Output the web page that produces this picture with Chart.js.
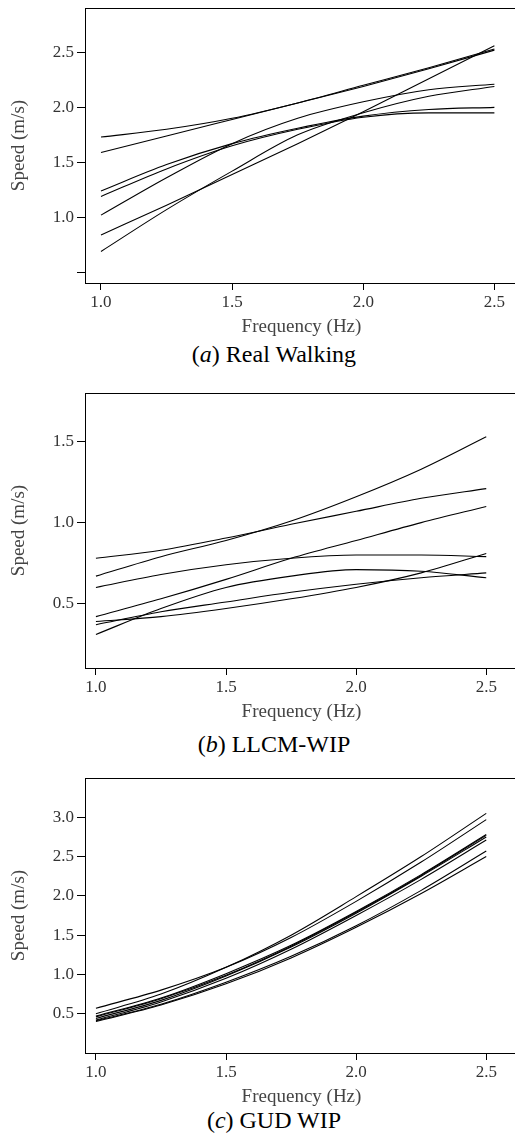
<!DOCTYPE html>
<html>
<head>
<meta charset="utf-8">
<script src="https://cdn.jsdelivr.net/npm/chart.js@4.4.0/dist/chart.umd.min.js"></script>
<style>
  html, body { margin: 0; padding: 0; overflow: hidden; background: #fff; width: 515px; height: 1135px; }
  canvas { position: absolute; left: 0; }
  .caption {
    position: absolute; left: 0; width: 548px; text-align: center;
    font-family: "Liberation Serif", "DejaVu Serif", serif; font-size: 24px; line-height: 24px; color: #000;
  }
</style>
</head>
<body>
<canvas id="chartA" width="518" height="337" style="top:0px"></canvas>
<div class="caption" style="top:342px">(<i>a</i>) Real Walking</div>
<canvas id="chartB" width="518" height="337" style="top:385px"></canvas>
<div class="caption" style="top:732px">(<i>b</i>) LLCM-WIP</div>
<canvas id="chartC" width="518" height="337" style="top:770px"></canvas>
<div class="caption" style="top:1108px">(<i>c</i>) GUD WIP</div>

<script>
const freq = [1.0, 1.25, 1.5, 1.75, 2.0, 2.25, 2.5];

// (a) Real Walking, one row per participant
const realWalking = [
  [1.73, 1.80, 1.90, 2.04, 2.20, 2.36, 2.53],
  [1.59, 1.74, 1.89, 2.04, 2.19, 2.35, 2.52],
  [1.02, 1.36, 1.67, 1.90, 2.05, 2.16, 2.21],
  [0.69, 1.07, 1.42, 1.75, 1.95, 2.10, 2.19],
  [0.84, 1.11, 1.39, 1.67, 1.96, 2.26, 2.56],
  [1.24, 1.48, 1.67, 1.81, 1.92, 1.98, 2.00],
  [1.19, 1.44, 1.65, 1.80, 1.91, 1.95, 1.95]
];

// (b) LLCM-WIP
const llcmWip = [
  [0.67, 0.79, 0.89, 1.01, 1.16, 1.33, 1.53],
  [0.78, 0.83, 0.905, 0.99, 1.07, 1.15, 1.21],
  [0.42, 0.53, 0.65, 0.78, 0.89, 1.00, 1.10],
  [0.60, 0.68, 0.74, 0.78, 0.80, 0.80, 0.79],
  [0.31, 0.47, 0.60, 0.67, 0.71, 0.70, 0.66],
  [0.37, 0.45, 0.51, 0.57, 0.62, 0.66, 0.69],
  [0.39, 0.42, 0.47, 0.53, 0.60, 0.69, 0.81]
];

// (c) GUD WIP
const gudWip = [
  [0.50, 0.75, 1.09, 1.50, 1.99, 2.50, 3.05],
  [0.57, 0.80, 1.09, 1.47, 1.93, 2.43, 2.97],
  [0.47, 0.70, 1.01, 1.37, 1.80, 2.27, 2.78],
  [0.46, 0.69, 0.99, 1.36, 1.79, 2.26, 2.77],
  [0.44, 0.67, 0.98, 1.35, 1.78, 2.25, 2.75],
  [0.42, 0.65, 0.95, 1.32, 1.75, 2.21, 2.71],
  [0.41, 0.62, 0.90, 1.23, 1.62, 2.07, 2.57],
  [0.40, 0.61, 0.88, 1.21, 1.60, 2.03, 2.50]
];

const xTicks = [1.0, 1.5, 2.0, 2.5];
const xTickLabels = ['1.0', '1.5', '2.0', '2.5'];
const yTicksA = [0.5, 1.0, 1.5, 2.0, 2.5];
const yTickLabelsA = ['', '1.0', '1.5', '2.0', '2.5'];
const yTicksB = [0.5, 1.0, 1.5];
const yTickLabelsB = ['0.5', '1.0', '1.5'];
const yTicksC = [0.5, 1.0, 1.5, 2.0, 2.5, 3.0];
const yTickLabelsC = ['0.5', '1.0', '1.5', '2.0', '2.5', '3.0'];

const serif = '"Liberation Serif", "DejaVu Serif", serif';

// box around the plot area (top and right spines too)
const frame = {
  id: 'frame',
  afterDraw(chart) {
    const { ctx, chartArea: a } = chart;
    ctx.save();
    ctx.strokeStyle = '#000';
    ctx.lineWidth = 1;
    ctx.strokeRect(Math.round(a.left) + 0.5, Math.round(a.top) + 0.5,
      Math.round(a.right - a.left), Math.round(a.bottom - a.top));
    ctx.restore();
  }
};

function noPadding(s) {
  s.paddingTop = 0; s.paddingBottom = 0; s.paddingLeft = 0; s.paddingRight = 0;
}

function makeChart(id, series, yTicks, yLabels, xMin, xMax, yMin, yMax) {
  const ctx = document.getElementById(id).getContext('2d');
  return new Chart(ctx, {
    type: 'line',
    data: {
      datasets: series.map(vals => ({
        data: vals.map((v, i) => ({ x: freq[i], y: v })),
        borderColor: '#000',
        borderWidth: 1.1,
        pointRadius: 0,
        fill: false,
        cubicInterpolationMode: 'monotone'
      }))
    },
    options: {
      responsive: false,
      animation: false,
      devicePixelRatio: 1,
      layout: { padding: { top: 8, left: 0, right: 0, bottom: 0 } },
      plugins: { legend: { display: false }, tooltip: { enabled: false } },
      scales: {
        x: {
          type: 'linear',
          min: xMin,
          max: xMax,
          afterBuildTicks: s => { s.ticks = xTicks.map(v => ({ value: v })); },
          afterFit: s => { s.height = 54; noPadding(s); },
          border: { display: false },
          grid: { drawOnChartArea: false, drawTicks: true, tickLength: 7, color: '#000' },
          ticks: {
            autoSkip: false, maxRotation: 0, padding: 2, color: '#333',
            font: { family: serif, size: 17 },
            callback: (v, i) => xTickLabels[i]
          },
          title: {
            display: true, text: 'Frequency (Hz)', color: '#444',
            font: { family: serif, size: 19, lineHeight: 1 },
            padding: { top: 0, bottom: 0 }
          }
        },
        y: {
          type: 'linear',
          min: yMin,
          max: yMax,
          afterBuildTicks: s => { s.ticks = yTicks.map(v => ({ value: v })); },
          afterFit: s => { s.width = 85; noPadding(s); },
          border: { display: false },
          grid: { drawOnChartArea: false, drawTicks: true, tickLength: 8, color: '#000' },
          ticks: {
            autoSkip: false, padding: 3, color: '#333',
            font: { family: serif, size: 17 },
            callback: (v, i) => yLabels[i]
          },
          title: {
            display: true, text: 'Speed (m/s)', color: '#444',
            font: { family: serif, size: 19, lineHeight: 1 },
            padding: { top: 10, bottom: 0 }
          }
        }
      }
    },
    plugins: [frame]
  });
}

makeChart('chartA', realWalking, yTicksA, yTickLabelsA, 0.939, 2.590, 0.403, 2.903);
makeChart('chartB', llcmWip, yTicksB, yTickLabelsB, 0.958, 2.622, 0.103, 1.80);
makeChart('chartC', gudWip, yTicksC, yTickLabelsC, 0.958, 2.622, 0.0, 3.5);
</script>
</body>
</html>
